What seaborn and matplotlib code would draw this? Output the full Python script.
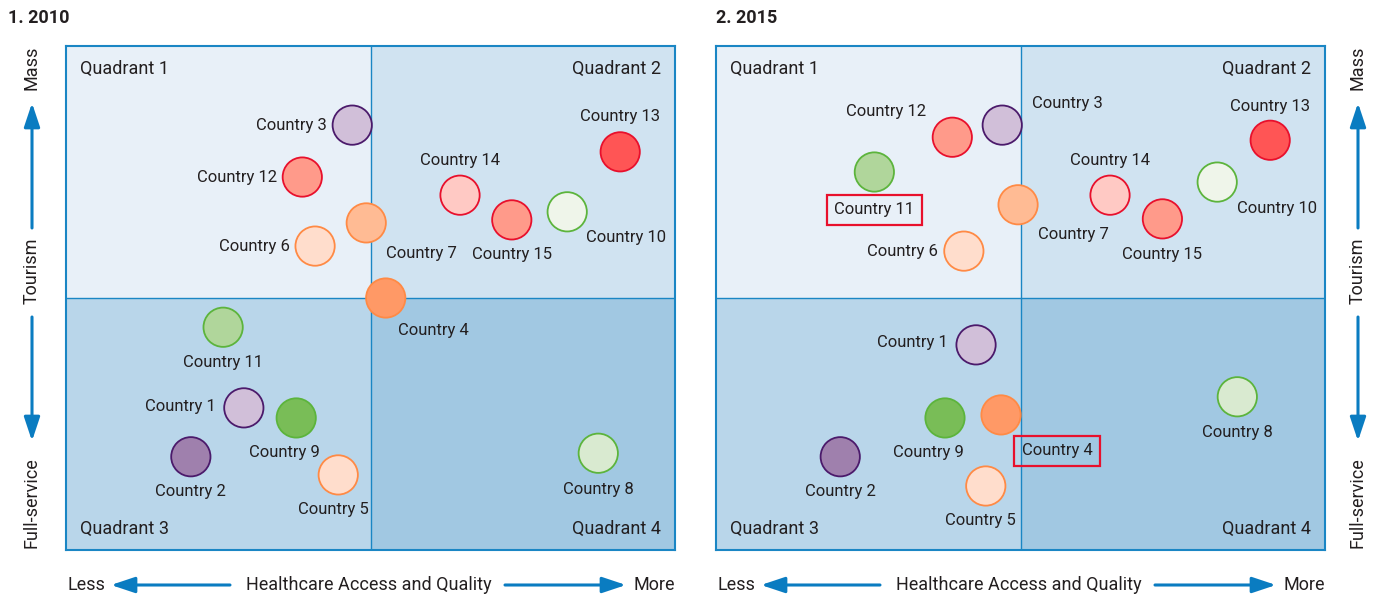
import numpy as np
import pandas as pd
import matplotlib
matplotlib.use("Agg")
import matplotlib.pyplot as plt
import seaborn as sns
from matplotlib.patches import Rectangle, FancyArrowPatch

# ─── Data ────────────────────────────────────────────────────────────────────
COUNTRIES = [f"Country {i}" for i in range(1, 16)]

# healthcare access (x) and tourism type (y), 0-10 scale, midpoint 5
x_2010 = [2.92, 2.05, 4.70, 5.25, 4.47, 4.09, 4.93, 8.74, 3.78, 8.23, 2.58, 3.88, 9.10, 6.47, 7.32]
y_2010 = [2.82, 1.85, 8.43, 5.00, 1.49, 6.03, 6.49, 1.92, 2.62, 6.71, 4.42, 7.40, 7.90, 7.04, 6.55]

x_2015 = [4.27, 2.04, 4.70, 4.68, 4.43, 4.07, 4.96, 8.56, 3.76, 8.23, 2.60, 3.88, 9.10, 6.47, 7.33]
y_2015 = [4.07, 1.85, 8.43, 2.68, 1.27, 5.93, 6.85, 3.04, 2.62, 7.30, 7.50, 8.19, 8.13, 7.04, 6.57]

HIGHLIGHT_2015 = ["Country 11", "Country 4"]

# ─── Styling ─────────────────────────────────────────────────────────────────
PURPLE, ORANGE, GREEN, RED = "#4b1a6b", "#ff8a45", "#5cb43c", "#e8102c"
FILL = ["#d1bfd9", "#9f80ad", "#d1bfd9", "#ff9966", "#ffddcc",
        "#ffddcc", "#ffbb94", "#d9ead0", "#79bd57", "#eff5ea",
        "#b0d69b", "#ff9a8a", "#ff5555", "#ffc9c4", "#ff9a8a"]
EDGE = [PURPLE, PURPLE, PURPLE, ORANGE, ORANGE,
        ORANGE, ORANGE, GREEN, GREEN, GREEN,
        GREEN, RED, RED, RED, RED]

Q_COLORS = {"q1": "#e8f0f8", "q2": "#d0e3f1", "q3": "#b9d6ea", "q4": "#a1c8e2"}
BLUE = "#1a86c4"
ARROW = "#0a7cc1"
TXT = "#231f20"

# label offsets in pixels (dx, dy, ha)
OFF_2010 = {
    1: (-28, 1, "right"), 2: (0, -35, "center"), 3: (-25, 0, "right"),
    4: (48, -33, "center"), 5: (-5, -35, "center"), 6: (-25, 0, "right"),
    7: (55, -31, "center"), 8: (0, -36, "center"), 9: (-12, -35, "center"),
    10: (59, -26, "center"), 11: (0, -35, "center"), 12: (-25, 0, "right"),
    13: (0, 35, "center"), 14: (0, 35, "center"), 15: (0, -35, "center"),
}
OFF_2015 = {
    1: (-28, 2, "right"), 2: (0, -35, "center"), 3: (30, 22, "left"),
    4: (56, -36, "center"), 5: (-5, -35, "center"), 6: (-26, 0, "right"),
    7: (55, -30, "center"), 8: (0, -36, "center"), 9: (-17, -35, "center"),
    10: (60, -26, "center"), 11: (0, -38, "center"), 12: (-66, 26, "center"),
    13: (0, 34, "center"), 14: (0, 35, "center"), 15: (0, -36, "center"),
}

sns.set_style("white")
plt.rcParams["font.family"] = ["Roboto", "DejaVu Sans"]

W, H = 1375, 599
fig = plt.figure(figsize=(W / 100, H / 100), dpi=100)


def fx(px):
    return px / W


def fy(py):
    return 1 - py / H


def arrow(x0, y0, x1, y1):
    fig.patches.append(FancyArrowPatch(
        (fx(x0), fy(y0)), (fx(x1), fy(y1)), transform=fig.transFigure,
        arrowstyle="-|>,head_length=0.9,head_width=0.3", mutation_scale=16,
        color=ARROW, lw=2.2, shrinkA=0, shrinkB=0))


def draw_panel(left_px, xs, ys, offsets, highlight, title, title_px, axis_side):
    ax = fig.add_axes([fx(left_px), fy(550), 609 / W, 504 / H])
    ax.set_xlim(0, 10)
    ax.set_ylim(0, 10)

    # quadrant backgrounds
    ax.add_patch(Rectangle((0, 5), 5, 5, color=Q_COLORS["q1"], zorder=0, lw=0))
    ax.add_patch(Rectangle((5, 5), 5, 5, color=Q_COLORS["q2"], zorder=0, lw=0))
    ax.add_patch(Rectangle((0, 0), 5, 5, color=Q_COLORS["q3"], zorder=0, lw=0))
    ax.add_patch(Rectangle((5, 0), 5, 5, color=Q_COLORS["q4"], zorder=0, lw=0))
    ax.axvline(5, color=BLUE, lw=1, zorder=1)
    ax.axhline(5, color=BLUE, lw=1, zorder=1)

    df = pd.DataFrame({"x": xs, "y": ys, "country": COUNTRIES})
    sns.scatterplot(data=df, x="x", y="y", hue="country",
                    palette=dict(zip(COUNTRIES, FILL)), s=800,
                    linewidth=1.3, legend=False, ax=ax, zorder=3)
    ax.collections[-1].set_edgecolors(EDGE)

    for i, (name, x, y) in enumerate(zip(COUNTRIES, xs, ys), start=1):
        dx, dy, ha = offsets[i]
        bbox = None
        if name in highlight:
            bbox = dict(boxstyle="square,pad=0.45", fc="none", ec=RED, lw=1.6)
        ax.annotate(name, (x, y), xytext=(dx, dy), textcoords="offset pixels",
                    ha=ha, va="center", fontsize=12, color=TXT, bbox=bbox,
                    zorder=4)

    ax.text(0.023, 0.955, "Quadrant 1", transform=ax.transAxes, ha="left",
            va="center", fontsize=13, color=TXT)
    ax.text(0.977, 0.955, "Quadrant 2", transform=ax.transAxes, ha="right",
            va="center", fontsize=13, color=TXT)
    ax.text(0.023, 0.042, "Quadrant 3", transform=ax.transAxes, ha="left",
            va="center", fontsize=13, color=TXT)
    ax.text(0.977, 0.042, "Quadrant 4", transform=ax.transAxes, ha="right",
            va="center", fontsize=13, color=TXT)

    ax.set_xticks([])
    ax.set_yticks([])
    ax.set_xlabel("")
    ax.set_ylabel("")
    for sp in ax.spines.values():
        sp.set_visible(True)
        sp.set_color(BLUE)
        sp.set_linewidth(1.5)

    fig.text(fx(title_px), fy(18), title, ha="left", va="center",
             fontsize=13, fontweight="bold", color=TXT)

    # x-axis annotation
    ly = fy(585)
    fig.text(fx(left_px + 20), ly, "Less", ha="center", va="center",
             fontsize=13, color=TXT)
    fig.text(fx(left_px + 303), ly, "Healthcare Access and Quality",
             ha="center", va="center", fontsize=13, color=TXT)
    fig.text(fx(left_px + 588), ly, "More", ha="center", va="center",
             fontsize=13, color=TXT)
    arrow(left_px + 164, 585, left_px + 45, 585)
    arrow(left_px + 439, 585, left_px + 560, 585)

    # y-axis annotation
    vx = 32 if axis_side == "left" else 1358
    fig.text(fx(vx), fy(68), "Mass", rotation=90, ha="center", va="center",
             fontsize=13, color=TXT)
    fig.text(fx(vx), fy(271), "Tourism", rotation=90, ha="center",
             va="center", fontsize=13, color=TXT)
    fig.text(fx(vx), fy(503), "Full-service", rotation=90, ha="center",
             va="center", fontsize=13, color=TXT)
    arrow(vx, 228, vx, 103)
    arrow(vx, 317, vx, 441)
    return ax


draw_panel(66, x_2010, y_2010, OFF_2010, [], "1. 2010", 8, "left")
draw_panel(716, x_2015, y_2015, OFF_2015, HIGHLIGHT_2015, "2. 2015", 716, "right")

fig.savefig("out.png", dpi=100, facecolor="white")
